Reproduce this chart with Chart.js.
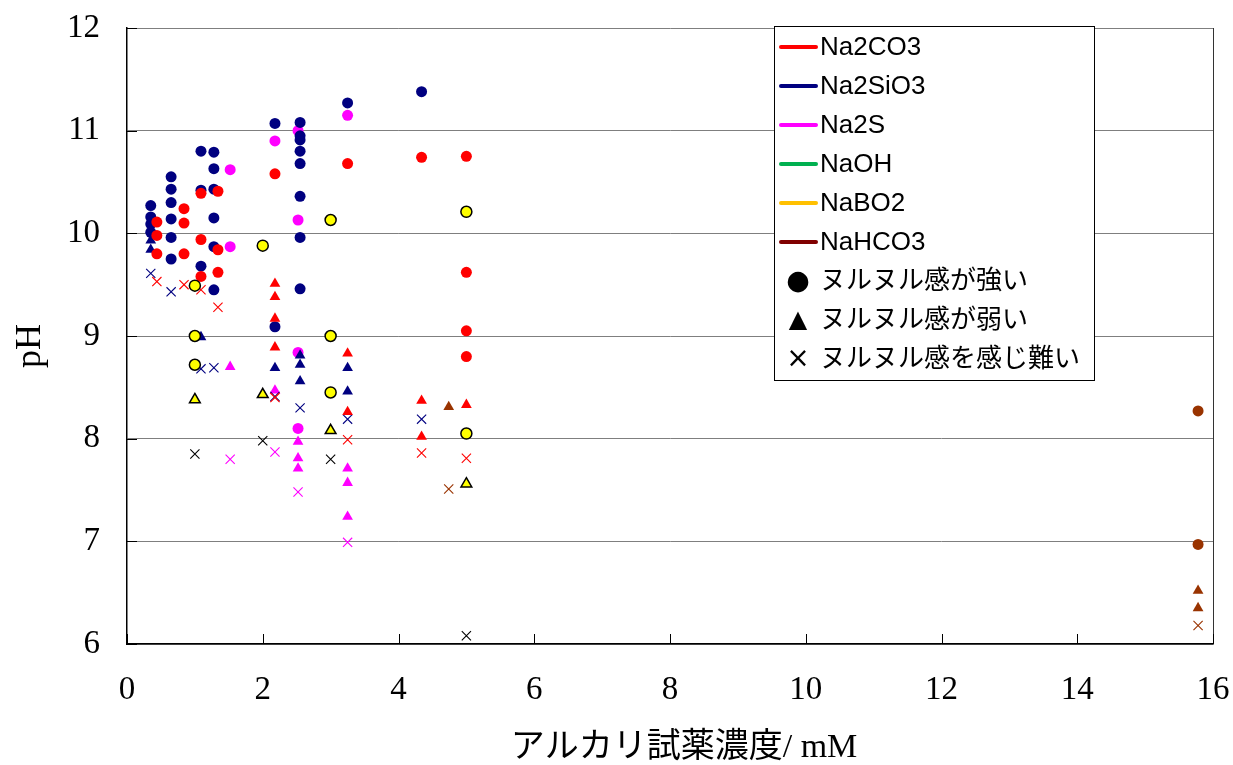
<!DOCTYPE html>
<html>
<head>
<meta charset="utf-8">
<script src="https://cdn.jsdelivr.net/npm/chart.js@4/dist/chart.umd.min.js"></script>
<style>
  html, body { margin: 0; padding: 0; background: #fff; }
  canvas { display: block; }
</style>
</head>
<body>
<canvas id="c" width="1233" height="765"></canvas>
<script>
// pH of alkali reagent solutions vs. concentration (mM), grouped by slipperiness feel

// Na2CO3
const na2co3Strong = [[0.44,10.11],[0.44,9.98],[0.44,9.80],[0.84,10.24],[0.84,10.10],[0.84,9.80],
  [1.09,10.39],[1.09,9.94],[1.09,9.58],[1.34,10.41],[1.34,9.84],[1.34,9.62],
  [2.18,10.58],[3.25,10.68],[4.34,10.74],[5.0,10.75],[5.0,9.62],[5.0,9.05],[5.0,8.80]];
const na2co3Weak = [[2.18,9.51],[2.18,9.38],[2.18,9.17],[2.18,8.89],[3.25,8.83],[3.25,8.26],
  [4.34,8.37],[4.34,8.02],[5.0,8.33]];
const na2co3Hard = [[0.44,9.53],[0.84,9.50],[1.09,9.45],[1.34,9.28],[2.18,8.40],[3.25,7.99],
  [4.34,7.86],[5.0,7.81]];

// Na2SiO3
const na2sio3Strong = [[0.35,10.27],[0.35,10.16],[0.35,10.09],[0.35,10.01],
  [0.65,10.55],[0.65,10.43],[0.65,10.30],[0.65,10.14],[0.65,9.96],[0.65,9.75],
  [1.09,10.80],[1.09,10.42],[1.09,9.68],
  [1.28,10.79],[1.28,10.63],[1.28,10.43],[1.28,10.15],[1.28,9.87],[1.28,9.45],
  [2.18,11.07],[2.18,9.09],
  [2.55,11.08],[2.55,10.95],[2.55,10.91],[2.55,10.80],[2.55,10.68],[2.55,10.36],[2.55,9.96],[2.55,9.46],
  [3.25,11.27],[4.34,11.38]];
const na2sio3Weak = [[0.35,9.93],[0.35,9.84],[1.09,8.99],[2.18,8.69],[2.55,8.81],[2.55,8.72],
  [2.55,8.56],[3.25,8.69],[3.25,8.46]];
const na2sio3Hard = [[0.35,9.61],[0.65,9.43],[1.09,8.68],[1.28,8.69],[2.18,8.41],[2.55,8.30],
  [3.25,8.19],[4.34,8.19]];

// Na2S
const na2sStrong = [[1.52,10.62],[1.52,9.87],[2.18,10.90],[2.52,11.00],[2.52,10.13],[2.52,8.84],
  [2.52,8.10],[3.25,11.15]];
const na2sWeak = [[1.52,8.70],[2.18,8.47],[2.52,7.97],[2.52,7.81],[2.52,7.71],[3.25,7.71],
  [3.25,7.57],[3.25,7.24]];
const na2sHard = [[1.52,7.80],[2.18,7.87],[2.52,7.48],[3.25,6.99]];

// NaOH (legend entry only)
const naohStrong = [];
const naohWeak = [];
const naohHard = [];

// NaBO2
const nabo2Strong = [[1.0,9.49],[1.0,9.00],[1.0,8.72],[2.0,9.88],[3.0,10.13],[3.0,9.00],
  [3.0,8.45],[5.0,10.21],[5.0,8.05]];
const nabo2Weak = [[1.0,8.38],[2.0,8.43],[3.0,8.08],[5.0,7.56]];
const nabo2Hard = [[1.0,7.85],[2.0,7.98],[3.0,7.80],[5.0,6.08]];

// NaHCO3
const nahco3Strong = [[15.78,8.27],[15.78,6.97]];
const nahco3Weak = [[4.74,8.31],[15.78,6.52],[15.78,6.35]];
const nahco3Hard = [[4.74,7.51],[15.78,6.18]];

const seriesNames = ['Na2CO3', 'Na2SiO3', 'Na2S', 'NaOH', 'NaBO2', 'NaHCO3'];
const legendLineColors = ['#FF0000', '#000080', '#FF00FF', '#00B050', '#FFC000', '#800000'];
const feelLabels = ['ヌルヌル感が強い', 'ヌルヌル感が弱い', 'ヌルヌル感を感じ難い'];
const feelSymbols = ['●', '▲', '×'];
const xTickValues = [0, 2, 4, 6, 8, 10, 12, 14, 16];
const yTickValues = [6, 7, 8, 9, 10, 11, 12];
const xTitle = 'アルカリ試薬濃度/ mM';
const yTitle = 'pH';

const toPoints = arr => arr.map(([x, y]) => ({ x, y }));

function circleSet(label, data, fill, edge, edgeW) {
  return { label, data: toPoints(data), pointStyle: 'circle', pointRadius: 5.5,
    pointBackgroundColor: fill, pointBorderColor: edge || fill, pointBorderWidth: edgeW || 0, showLine: false };
}
function triangleSet(label, data, fill, edge, edgeW) {
  return { label, data: toPoints(data), pointStyle: 'triangle', pointRadius: 6.2,
    pointBackgroundColor: fill, pointBorderColor: edge || fill, pointBorderWidth: edgeW || 0, showLine: false };
}
function crossSet(label, data, color) {
  return { label, data: toPoints(data), pointStyle: 'crossRot', pointRadius: 6.5,
    pointBackgroundColor: color, pointBorderColor: color, pointBorderWidth: 1.1, showLine: false };
}

const RED = '#FF0000', NAVY = '#000080', MAGENTA = '#FF00FF', GREEN = '#00B050', YELLOW = '#FFFF00', BROWN = '#993300';

const datasets = [
  circleSet('NaBO2 強い', nabo2Strong, YELLOW, '#000000', 1.5),
  triangleSet('NaBO2 弱い', nabo2Weak, YELLOW, '#000000', 1.5),
  crossSet('NaBO2 難い', nabo2Hard, '#000000'),
  circleSet('Na2CO3 強い', na2co3Strong, RED),
  triangleSet('Na2CO3 弱い', na2co3Weak, RED),
  crossSet('Na2CO3 難い', na2co3Hard, RED),
  circleSet('Na2SiO3 強い', na2sio3Strong, NAVY),
  triangleSet('Na2SiO3 弱い', na2sio3Weak, NAVY),
  crossSet('Na2SiO3 難い', na2sio3Hard, NAVY),
  circleSet('Na2S 強い', na2sStrong, MAGENTA),
  triangleSet('Na2S 弱い', na2sWeak, MAGENTA),
  crossSet('Na2S 難い', na2sHard, MAGENTA),
  circleSet('NaOH 強い', naohStrong, GREEN),
  triangleSet('NaOH 弱い', naohWeak, GREEN),
  crossSet('NaOH 難い', naohHard, GREEN),
  circleSet('NaHCO3 強い', nahco3Strong, BROWN),
  triangleSet('NaHCO3 弱い', nahco3Weak, BROWN),
  crossSet('NaHCO3 難い', nahco3Hard, BROWN)
];

const serifFont = '"Liberation Serif", "Times New Roman", "Noto Sans CJK JP", serif';
const sansFont = '"Liberation Sans", Arial, "Noto Sans CJK JP", sans-serif';

// Inner tick marks, frame, axis titles and the boxed legend
const decorations = {
  id: 'decorations',
  afterDraw(chart) {
    const { ctx, chartArea: a, scales: { x, y } } = chart;
    ctx.save();

    // right frame edge
    ctx.strokeStyle = '#333333';
    ctx.lineWidth = 1;
    ctx.beginPath();
    ctx.moveTo(a.right + 0.5, a.top);
    ctx.lineTo(a.right + 0.5, a.bottom);
    ctx.stroke();

    // inward tick marks
    ctx.strokeStyle = '#000000';
    ctx.lineWidth = 1;
    ctx.beginPath();
    xTickValues.forEach(v => {
      const px = Math.round(x.getPixelForValue(v)) + 0.5;
      ctx.moveTo(px, a.bottom);
      ctx.lineTo(px, a.bottom - 10);
    });
    yTickValues.forEach(v => {
      const py = Math.round(y.getPixelForValue(v)) + 0.5;
      ctx.moveTo(a.left, py);
      ctx.lineTo(a.left + 10, py);
    });
    ctx.stroke();

    // axis titles
    ctx.fillStyle = '#000000';
    ctx.textAlign = 'center';
    ctx.textBaseline = 'middle';
    ctx.font = '34px ' + serifFont;
    ctx.fillText(xTitle, 684, 748);
    ctx.save();
    ctx.translate(31, 346);
    ctx.rotate(-Math.PI / 2);
    ctx.font = '36px ' + serifFont;
    ctx.fillText(yTitle, 0, 0);
    ctx.restore();

    // legend box
    const box = { left: 774.5, top: 26.5, right: 1094.5, bottom: 380.5 };
    ctx.fillStyle = '#FFFFFF';
    ctx.fillRect(box.left, box.top, box.right - box.left, box.bottom - box.top);
    ctx.strokeStyle = '#000000';
    ctx.lineWidth = 1;
    ctx.strokeRect(box.left, box.top, box.right - box.left, box.bottom - box.top);

    const rowStep = 39;
    const firstRow = 47;
    ctx.textAlign = 'left';
    ctx.textBaseline = 'middle';
    ctx.font = '26px ' + sansFont;
    ctx.lineCap = 'round';
    seriesNames.forEach((name, i) => {
      const ry = firstRow + i * rowStep;
      ctx.strokeStyle = legendLineColors[i];
      ctx.lineWidth = 4;
      ctx.beginPath();
      ctx.moveTo(781, ry);
      ctx.lineTo(816, ry);
      ctx.stroke();
      ctx.fillStyle = '#000000';
      ctx.fillText(name, 820, ry + 1);
    });
    const symbolSizes = [27, 24, 28];
    feelLabels.forEach((label, i) => {
      const ry = firstRow + (seriesNames.length + i) * rowStep;
      ctx.fillStyle = '#000000';
      ctx.textAlign = 'center';
      ctx.font = symbolSizes[i] + 'px "DejaVu Sans", sans-serif';
      ctx.fillText(feelSymbols[i], 798, ry + 1);
      ctx.textAlign = 'left';
      ctx.font = '26px ' + sansFont;
      ctx.fillText(label, 820, ry + 1);
    });

    ctx.restore();
  }
};

new Chart(document.getElementById('c'), {
  type: 'scatter',
  data: { datasets },
  options: {
    responsive: false,
    devicePixelRatio: 1,
    animation: false,
    events: [],
    layout: { padding: { top: 28, right: 20, left: 0, bottom: 0 } },
    plugins: { legend: { display: false }, tooltip: { enabled: false }, title: { display: false } },
    scales: {
      x: {
        type: 'linear', min: 0, max: 16,
        afterBuildTicks: s => { s.ticks = xTickValues.map(v => ({ value: v })); },
        afterFit: s => { s.height = 121; s.paddingLeft = 0; s.paddingRight = 0; },
        ticks: { color: '#000', padding: 27, font: { family: serifFont, size: 33 }, maxRotation: 0 },
        grid: { drawOnChartArea: false, drawTicks: false },
        border: { display: true, color: '#000', width: 1.5 }
      },
      y: {
        type: 'linear', min: 6, max: 12,
        afterBuildTicks: s => { s.ticks = yTickValues.map(v => ({ value: v })); },
        afterFit: s => { s.width = 127; s.paddingTop = 0; s.paddingBottom = 0; },
        ticks: { color: '#000', padding: 27, font: { family: serifFont, size: 33 } },
        grid: { color: '#7F7F7F', lineWidth: 1, drawTicks: false },
        border: { display: true, color: '#000', width: 1.5 }
      }
    }
  },
  plugins: [decorations]
});
</script>
</body>
</html>
